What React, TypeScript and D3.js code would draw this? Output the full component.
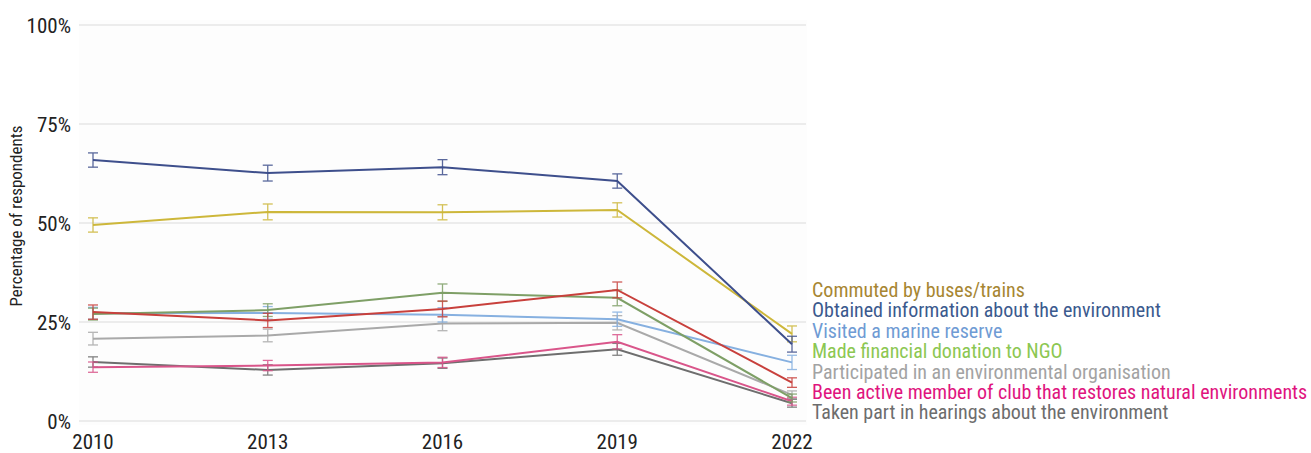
import React from "react";
import * as d3 from "d3";

const years = [2010, 2013, 2016, 2019, 2022];
const yTicks = [0, 25, 50, 75, 100];

const seriesNames = [
  "Commuted by buses/trains",
  "Obtained information about the environment",
  "Visited a marine reserve",
  "Made financial donation to NGO",
  "Participated in an environmental organisation",
  "Been active member of club that restores natural environments",
  "Taken part in hearings about the environment",
  "",
];

const commuted = [49.5, 52.8, 52.7, 53.3, 22.0];
const obtained = [65.9, 62.6, 64.1, 60.6, 19.4];
const visited = [27.2, 27.3, 26.8, 25.7, 14.8];
const donation = [27.0, 28.0, 32.4, 31.1, 5.8];
const participated = [20.8, 21.6, 24.6, 24.8, 6.6];
const beenActive = [13.6, 14.0, 14.8, 20.0, 5.0];
const hearings = [14.9, 12.9, 14.6, 18.1, 4.5];
const unlabeled = [27.5, 25.4, 28.3, 33.1, 9.7];

const errCommuted = [1.8, 2.0, 1.9, 1.8, 2.0];
const errObtained = [1.8, 2.0, 1.9, 1.8, 2.0];
const errVisited = [1.5, 1.6, 1.8, 1.8, 1.8];
const errDonation = [1.5, 1.6, 2.2, 2.0, 1.0];
const errParticipated = [1.6, 1.6, 1.8, 1.8, 1.0];
const errBeenActive = [1.3, 1.3, 1.3, 1.8, 1.0];
const errHearings = [1.3, 1.3, 1.3, 1.5, 1.0];
const errUnlabeled = [1.8, 1.8, 2.0, 2.0, 1.2];

const seriesValues = [commuted, obtained, visited, donation, participated, beenActive, hearings, unlabeled];
const seriesErrors = [errCommuted, errObtained, errVisited, errDonation, errParticipated, errBeenActive, errHearings, errUnlabeled];
const lineColors = ["#cdb73a", "#3e4f8c", "#86b0e0", "#7e9f66", "#a9a9a9", "#d9558a", "#6e6e6e", "#c8403c"];
const legendColors = ["#a78632", "#3b5a8e", "#6f9bd4", "#8cc752", "#a3a3a3", "#e0147e", "#6d6d6d", "#000"];

// draw order (bottom to top)
const drawOrder = [4, 2, 6, 5, 3, 7, 0, 1];

const W = 1311;
const H = 453;
const font = "'Liberation Sans Narrow', 'Arial Narrow', 'Roboto Condensed', 'Liberation Sans', sans-serif";

export default function App() {
  const x = d3.scalePoint<number>().domain(years).range([93, 792]);
  const y = d3.scaleLinear().domain([0, 100]).range([421, 25]);
  const line = d3
    .line<number>()
    .x((_, i) => x(years[i]) as number)
    .y((d) => y(d));

  return (
    <svg
      width={W}
      height={H}
      style={{ position: "absolute", left: 0, top: 0, background: "#fff" }}
    >
      <rect x={79} y={20} width={728} height={405} fill="#fdfdfd" />
      {yTicks.map((t) => (
        <g key={t}>
          <line x1={79} x2={806} y1={y(t)} y2={y(t)} stroke="#ececec" strokeWidth={2} />
          <text
            x={71}
            y={y(t)}
            dy="0.36em"
            textAnchor="end"
            fontFamily={font}
            fontSize={21}
            fill="#222"
          >
            {t}%
          </text>
        </g>
      ))}
      <text
        transform={`translate(22,${216}) rotate(-90)`}
        textAnchor="middle"
        fontFamily={font}
        fontSize={17}
        fill="#222"
      >
        Percentage of respondents
      </text>
      {years.map((yr) => (
        <text
          key={yr}
          x={x(yr)}
          y={449}
          textAnchor="middle"
          fontFamily={font}
          fontSize={21}
          fill="#222"
        >
          {yr}
        </text>
      ))}
      {drawOrder.map((si) => {
        const vals = seriesValues[si];
        const errs = seriesErrors[si];
        const c = lineColors[si];
        return (
          <g key={si}>
            <path d={line(vals) || ""} fill="none" stroke={c} strokeWidth={2} />
            {vals.map((v, i) => {
              const cx = x(years[i]) as number;
              const y1 = y(v + errs[i]);
              const y2 = y(v - errs[i]);
              return (
                <g key={i} stroke={c} strokeWidth={1.3} opacity={0.85}>
                  <line x1={cx} x2={cx} y1={y1} y2={y2} />
                  <line x1={cx - 5} x2={cx + 5} y1={y1} y2={y1} />
                  <line x1={cx - 5} x2={cx + 5} y1={y2} y2={y2} />
                </g>
              );
            })}
          </g>
        );
      })}
      {seriesNames.map((name, i) =>
        name ? (
          <text
            key={i}
            x={812}
            y={290 + i * 20.4}
            dy="0.35em"
            fontFamily={font}
            fontSize={20}
            fill={legendColors[i]}
          >
            {name}
          </text>
        ) : null
      )}
    </svg>
  );
}
